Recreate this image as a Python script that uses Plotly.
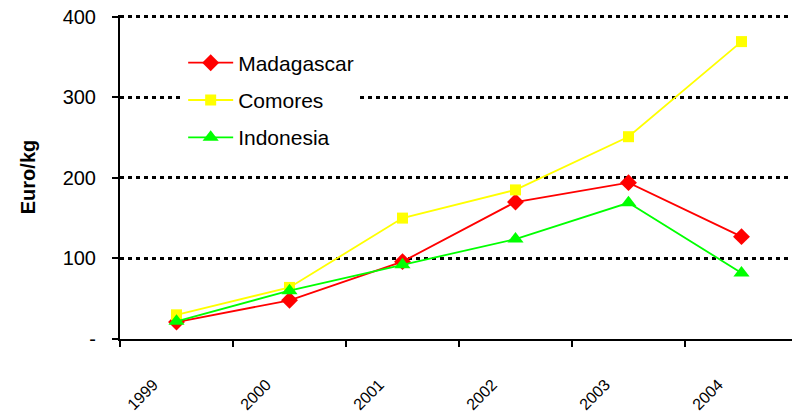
import plotly.graph_objects as go

years = ["1999", "2000", "2001", "2002", "2003", "2004"]
madagascar = [21, 48, 96, 170, 194, 127]
comores = [30, 64, 150, 185, 251, 369]
indonesia = [22, 60, 92, 124, 169, 82]

y_ticks = [0, 100, 200, 300, 400]
y_tick_text = ["-", "100", "200", "300", "400"]

series = [
    ("Madagascar", madagascar, "#FF0000", "diamond", 13),
    ("Comores", comores, "#FFFF00", "square", 11),
    ("Indonesia", indonesia, "#00FF00", "triangle-up", 14),
]

fig = go.Figure()
for name, vals, color, symbol, size in series:
    fig.add_trace(go.Scatter(
        x=years, y=vals, name=name, mode="lines+markers", legendgroup=name,
        line=dict(color=color, width=1.8),
        marker=dict(symbol=symbol, size=size, color=color, line=dict(width=0)),
    ))

fig.update_layout(
    width=792, height=412,
    margin=dict(l=120, r=0, t=15, b=73),
    paper_bgcolor="white", plot_bgcolor="white",
    font=dict(family="Liberation Sans, Arial, sans-serif", color="black", size=20),
    legend=dict(
        x=0.094, y=0.915, xanchor="left", yanchor="top",
        bgcolor="white", borderwidth=0,
        font=dict(size=21), tracegroupgap=7, itemwidth=45,
    ),
    showlegend=True,
)

fig.update_xaxes(
    type="category", range=[-0.5, 5.447],
    showline=True, linecolor="black", linewidth=2,
    ticks="outside", tickson="boundaries", ticklen=6, tickwidth=2, tickcolor="black",
    tickangle=-45, ticklabelshift=-23, ticklabelstandoff=28,
    tickfont=dict(family="Liberation Sans Narrow, Liberation Sans, Arial", size=16),
    showgrid=False, zeroline=False,
)
fig.update_yaxes(
    range=[0, 402], tickvals=y_ticks, ticktext=y_tick_text,
    showline=True, linecolor="black", linewidth=2,
    ticks="outside", ticklen=6, tickwidth=2, tickcolor="black",
    ticklabelstandoff=12,
    showgrid=True, gridcolor="black", gridwidth=3, griddash="4px,4px",
    zeroline=False,
    title=dict(text="<b>Euro/kg</b>", font=dict(size=20), standoff=22),
)

fig.write_html("out.html")
